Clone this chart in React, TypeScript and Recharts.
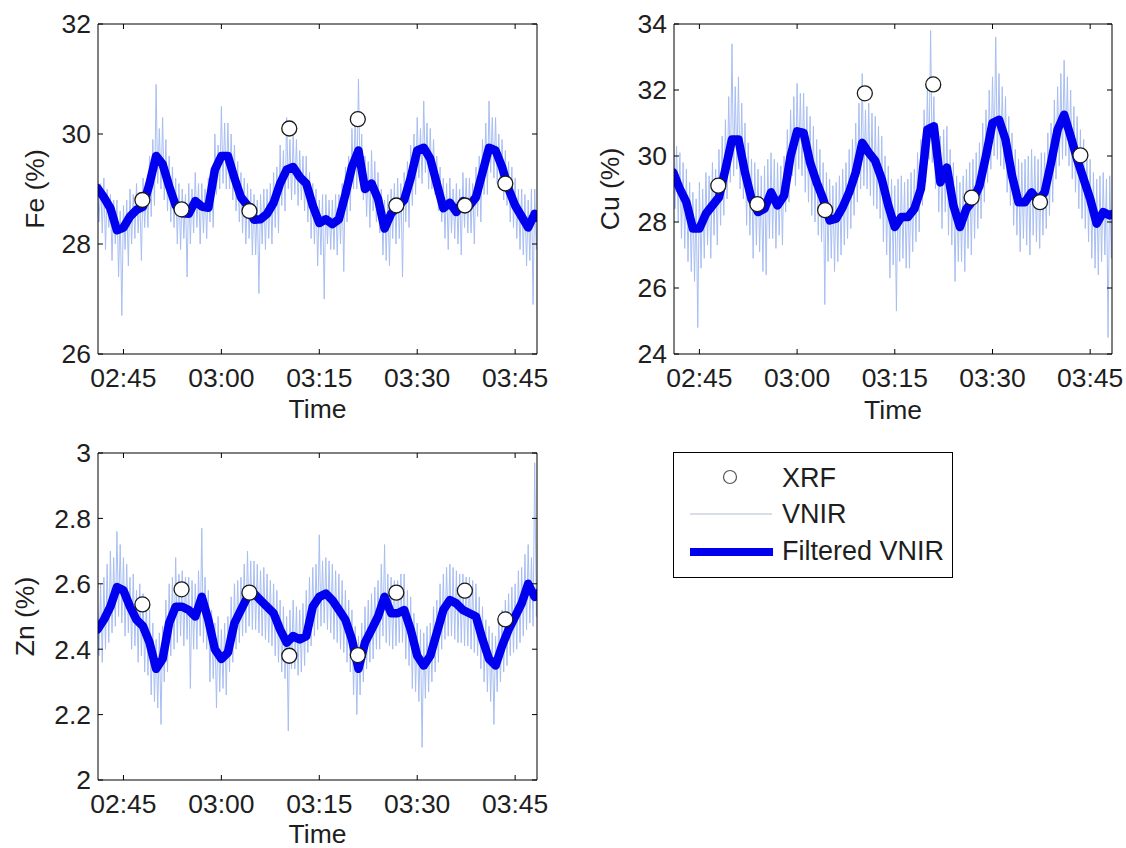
import React from 'react';
import { ComposedChart, Line, Scatter, XAxis, YAxis } from 'recharts';

const FONT = '"Liberation Sans", Arial, Helvetica, sans-serif';
const TEXT = '#1e1e1e';
const RAW_COLOR = '#a8bef2';
const FILT_COLOR = '#0000ee';
const FS = 26.5;

const X_DOMAIN: [number, number] = [161.1, 228.35];
const TIME_TICKS = [165, 180, 195, 210, 225];

// raw VNIR sampled every 0.25 min from 02:41; filtered every 1 min from 02:41
const RAW_START = 161;
const RAW_STEP = 0.25;
const FILT_START = 161;
const FILT_STEP = 1;

const xrfTimes = [167.9, 173.9, 184.3, 190.4, 200.9, 206.8, 217.3, 223.5];
const feXrf = [28.8, 28.63, 28.6, 30.1, 30.27, 28.7, 28.7, 29.1];
const cuXrf = [29.1, 28.54, 28.36, 31.9, 32.17, 28.74, 28.6, 30.02];
const znXrf = [2.537, 2.583, 2.573, 2.38, 2.382, 2.573, 2.579, 2.491];

const feRaw = [
  29.3, 28.4, 29.1, 28.2, 29.2, 27.9, 29.0, 28.3,
  28.9, 27.7, 28.8, 28.0, 28.8, 27.4, 28.6, 26.7,
  28.7, 27.9, 28.8, 27.6, 29.0, 28.0, 28.9, 28.1,
  29.1, 28.2, 28.9, 27.7, 29.2, 28.3, 29.0, 28.3,
  29.6, 28.5, 29.9, 28.7, 30.9, 29.1, 30.1, 29.0,
  30.3, 28.8, 29.9, 28.6, 29.6, 28.4, 29.4, 28.3,
  29.2, 28.0, 29.1, 27.9, 29.0, 28.1, 28.9, 27.4,
  29.1, 28.0, 29.0, 28.2, 29.3, 28.3, 29.1, 28.0,
  29.1, 28.2, 29.0, 28.1, 29.2, 28.4, 29.3, 28.3,
  30.0, 28.9, 29.8, 29.0, 30.5, 29.1, 30.2, 29.0,
  30.2, 29.0, 30.0, 28.8, 29.8, 28.6, 29.5, 28.4,
  29.3, 28.2, 29.2, 28.0, 29.1, 28.1, 29.0, 27.8,
  28.9, 27.8, 28.8, 27.1, 28.9, 28.0, 29.0, 27.9,
  29.0, 28.1, 29.1, 28.0, 29.3, 28.3, 29.4, 28.2,
  29.8, 28.7, 29.7, 28.6, 30.3, 29.0, 29.9, 28.8,
  30.0, 28.9, 29.9, 28.7, 29.7, 28.8, 29.6, 28.6,
  29.6, 28.4, 29.3, 28.1, 29.1, 28.0, 29.0, 27.6,
  28.8, 27.8, 28.9, 27.0, 28.9, 28.0, 28.8, 27.9,
  28.8, 27.9, 28.9, 27.8, 28.9, 28.0, 29.1, 27.5,
  29.4, 28.4, 29.6, 28.6, 30.1, 29.0, 30.4, 29.0,
  31.0, 29.2, 30.0, 28.8, 29.6, 28.5, 29.5, 28.3,
  29.7, 28.6, 29.5, 28.4, 29.3, 28.2, 29.0, 27.8,
  28.8, 27.7, 28.9, 27.6, 29.0, 28.1, 29.1, 28.0,
  29.2, 28.1, 29.1, 27.4, 29.3, 28.4, 29.5, 28.3,
  29.8, 28.7, 30.0, 28.9, 30.3, 29.2, 30.1, 29.1,
  30.6, 29.3, 30.2, 29.0, 30.1, 29.0, 29.9, 28.9,
  29.6, 28.6, 29.4, 28.4, 29.2, 28.1, 29.1, 27.9,
  29.2, 28.2, 29.0, 28.1, 29.1, 28.0, 29.0, 27.8,
  29.3, 28.3, 29.2, 28.2, 29.2, 28.2, 29.1, 28.0,
  29.4, 28.5, 29.6, 28.4, 29.9, 28.9, 30.2, 28.9,
  30.6, 29.3, 30.3, 29.2, 30.3, 29.1, 30.0, 29.0,
  29.9, 28.8, 29.7, 28.7, 29.5, 28.4, 29.4, 28.3,
  29.2, 28.1, 29.0, 27.9, 29.0, 27.8, 28.9, 27.6,
  28.8, 27.7, 29.0, 26.9, 29.0, 27.9, 28.9, 27.3,
];

const cuRaw = [
  30.6, 28.4, 30.3, 28.0, 30.1, 27.5, 29.8, 27.2,
  29.6, 26.8, 29.2, 26.5, 28.9, 26.2, 28.7, 24.8,
  29.2, 26.6, 29.0, 26.9, 29.5, 27.3, 29.4, 26.9,
  29.8, 27.6, 29.6, 27.3, 30.2, 27.9, 30.6, 28.2,
  31.1, 28.7, 31.8, 29.2, 33.4, 29.4, 32.1, 29.6,
  32.4, 29.0, 31.6, 28.7, 31.0, 27.9, 30.4, 27.6,
  29.9, 26.9, 29.8, 27.3, 29.6, 27.1, 29.4, 26.5,
  29.7, 26.4, 29.9, 27.5, 30.1, 27.5, 29.9, 27.2,
  29.8, 27.6, 29.7, 27.3, 30.0, 28.3, 30.8, 28.6,
  31.4, 29.4, 31.8, 29.1, 32.2, 29.6, 31.9, 29.4,
  31.9, 28.9, 31.5, 28.6, 31.2, 28.2, 30.9, 28.0,
  30.5, 27.6, 30.2, 27.4, 29.8, 25.5, 29.5, 26.8,
  29.3, 26.9, 29.1, 26.5, 29.2, 26.8, 29.4, 27.0,
  29.6, 27.3, 29.8, 27.5, 30.2, 27.8, 30.5, 28.2,
  31.0, 28.6, 31.6, 29.0, 32.5, 29.1, 31.4, 29.0,
  31.6, 28.8, 31.3, 28.5, 31.2, 28.4, 30.9, 28.1,
  30.6, 27.4, 30.0, 27.0, 29.7, 26.3, 29.3, 26.7,
  29.1, 25.3, 29.3, 26.8, 29.4, 26.9, 29.2, 26.6,
  29.3, 26.6, 29.5, 27.1, 29.6, 27.4, 30.1, 27.7,
  30.5, 28.5, 31.4, 29.2, 32.0, 29.9, 33.8, 29.8,
  31.8, 29.0, 31.0, 28.3, 30.6, 27.8, 30.8, 28.3,
  30.9, 27.6, 30.2, 27.3, 29.8, 26.2, 29.4, 26.8,
  29.2, 26.8, 29.4, 26.5, 29.6, 27.2, 29.8, 27.0,
  29.9, 27.5, 30.1, 27.8, 30.4, 28.1, 31.0, 28.6,
  31.4, 29.2, 32.0, 29.6, 32.4, 30.0, 33.6, 29.9,
  32.5, 29.7, 32.1, 29.6, 31.8, 28.9, 31.2, 28.5,
  30.7, 27.9, 30.2, 27.6, 29.9, 27.1, 29.8, 27.5,
  29.9, 27.3, 30.0, 27.0, 30.2, 27.6, 30.0, 27.4,
  29.9, 27.2, 30.1, 27.6, 30.1, 27.8, 30.7, 28.2,
  31.0, 28.6, 31.7, 29.3, 32.1, 29.7, 32.5, 29.9,
  32.9, 30.0, 32.4, 29.7, 32.0, 29.3, 31.5, 28.9,
  31.2, 28.4, 30.8, 28.1, 30.5, 27.8, 30.1, 27.4,
  29.9, 26.9, 29.5, 26.6, 29.3, 26.4, 29.4, 26.8,
  29.5, 27.0, 29.3, 24.5, 29.4, 26.9, 29.2, 27.1,
];

const znRaw = [
  2.55, 2.38, 2.60, 2.36, 2.62, 2.40, 2.66, 2.42,
  2.70, 2.45, 2.68, 2.47, 2.76, 2.50, 2.72, 2.48,
  2.68, 2.44, 2.66, 2.45, 2.62, 2.40, 2.63, 2.41,
  2.58, 2.36, 2.60, 2.38, 2.57, 2.33, 2.55, 2.32,
  2.52, 2.26, 2.48, 2.24, 2.43, 2.22, 2.45, 2.17,
  2.47, 2.30, 2.55, 2.33, 2.60, 2.38, 2.62, 2.40,
  2.68, 2.42, 2.63, 2.44, 2.64, 2.41, 2.62, 2.43,
  2.62, 2.28, 2.61, 2.40, 2.60, 2.40, 2.64, 2.44,
  2.77, 2.42, 2.62, 2.40, 2.58, 2.30, 2.52, 2.31,
  2.48, 2.22, 2.50, 2.27, 2.46, 2.28, 2.48, 2.26,
  2.50, 2.33, 2.56, 2.36, 2.60, 2.40, 2.61, 2.42,
  2.62, 2.44, 2.66, 2.45, 2.70, 2.47, 2.67, 2.46,
  2.67, 2.46, 2.66, 2.45, 2.64, 2.44, 2.65, 2.43,
  2.63, 2.42, 2.61, 2.41, 2.60, 2.38, 2.58, 2.36,
  2.55, 2.33, 2.53, 2.31, 2.50, 2.15, 2.52, 2.34,
  2.55, 2.34, 2.53, 2.32, 2.52, 2.33, 2.54, 2.35,
  2.58, 2.39, 2.62, 2.41, 2.65, 2.44, 2.66, 2.46,
  2.75, 2.47, 2.67, 2.48, 2.68, 2.46, 2.67, 2.45,
  2.66, 2.43, 2.64, 2.42, 2.63, 2.40, 2.61, 2.39,
  2.58, 2.36, 2.55, 2.33, 2.52, 2.26, 2.47, 2.20,
  2.44, 2.26, 2.48, 2.30, 2.53, 2.34, 2.55, 2.36,
  2.57, 2.37, 2.59, 2.40, 2.61, 2.40, 2.66, 2.44,
  2.72, 2.42, 2.63, 2.41, 2.62, 2.40, 2.61, 2.41,
  2.61, 2.42, 2.63, 2.42, 2.63, 2.37, 2.58, 2.35,
  2.56, 2.28, 2.51, 2.27, 2.48, 2.24, 2.46, 2.10,
  2.45, 2.25, 2.47, 2.27, 2.48, 2.30, 2.53, 2.33,
  2.55, 2.36, 2.60, 2.40, 2.63, 2.43, 2.65, 2.44,
  2.66, 2.44, 2.65, 2.43, 2.64, 2.42, 2.63, 2.42,
  2.63, 2.41, 2.62, 2.41, 2.62, 2.40, 2.61, 2.39,
  2.60, 2.38, 2.56, 2.34, 2.53, 2.30, 2.49, 2.27,
  2.47, 2.24, 2.45, 2.17, 2.44, 2.27, 2.50, 2.30,
  2.52, 2.33, 2.55, 2.35, 2.57, 2.38, 2.59, 2.39,
  2.60, 2.40, 2.64, 2.42, 2.65, 2.44, 2.69, 2.46,
  2.72, 2.48, 2.68, 2.47, 2.97, 2.50, 2.70, 2.48,
];

const feFilt = [
  29.02, 28.85, 28.65, 28.25, 28.3, 28.5, 28.62, 28.68, 29.1, 29.6,
  29.45, 29.05, 28.7, 28.56, 28.55, 28.78, 28.68, 28.66, 29.35, 29.6,
  29.6, 29.2, 28.85, 28.7, 28.44, 28.45, 28.55, 28.75, 29.1, 29.35,
  29.4, 29.22, 29.1, 28.7, 28.38, 28.45, 28.36, 28.45, 28.9, 29.4,
  29.7, 29.0, 29.1, 28.82, 28.28, 28.55, 28.68, 28.8, 29.2, 29.7,
  29.75, 29.55, 29.1, 28.65, 28.75, 28.58, 28.78, 28.7, 28.85, 29.3,
  29.75, 29.7, 29.4, 29.0, 28.7, 28.5, 28.3, 28.55, 28.42,
];

const cuFilt = [
  29.5, 29.0, 28.6, 27.8, 27.8, 28.25, 28.5, 28.75, 29.6, 30.5,
  30.5, 29.5, 28.7, 28.3, 28.4, 28.9, 28.5, 28.8, 30.0, 30.75,
  30.7, 29.8, 29.2, 28.7, 28.05, 28.1, 28.45, 28.9, 29.5, 30.4,
  30.1, 29.85, 29.3, 28.5, 27.85, 28.15, 28.15, 28.4, 29.0, 30.8,
  30.9, 29.2, 29.65, 28.5, 27.85, 28.4, 28.65, 29.1, 30.0, 31.0,
  31.1, 30.5, 29.4, 28.6, 28.6, 28.9, 28.65, 28.9, 29.8, 30.8,
  31.25, 30.6, 29.9, 29.3, 28.7, 27.95, 28.3, 28.2, 28.3,
];

const znFilt = [
  2.46, 2.49, 2.53, 2.59, 2.58, 2.53, 2.49, 2.47, 2.42, 2.34,
  2.37, 2.48, 2.53, 2.53, 2.52, 2.5, 2.56, 2.49, 2.4, 2.37,
  2.39, 2.48, 2.52, 2.56, 2.57, 2.55, 2.53, 2.51, 2.46, 2.42,
  2.44, 2.43, 2.44, 2.53, 2.56, 2.57, 2.55, 2.52, 2.49, 2.43,
  2.34, 2.42, 2.46, 2.5, 2.56, 2.51, 2.51, 2.52, 2.46, 2.38,
  2.35, 2.38, 2.45, 2.52, 2.55, 2.54, 2.52, 2.51, 2.5, 2.43,
  2.37, 2.35, 2.41, 2.46, 2.5, 2.54, 2.6, 2.56, 2.58,
];

const feTicks = [26, 28, 30, 32];
const cuTicks = [24, 26, 28, 30, 32, 34];
const znTicks = [2, 2.2, 2.4, 2.6, 2.8, 3];

const toRows = (vals: number[], start: number, step: number) =>
  vals.map((v, i) => ({ t: start + i * step, v }));
const xrfRows = (vals: number[]) => vals.map((v, i) => ({ t: xrfTimes[i], v }));

const fmtTime = (t: number) => {
  const h = Math.floor(t / 60);
  const m = Math.round(t - h * 60);
  return `${String(h).padStart(2, '0')}:${String(m).padStart(2, '0')}`;
};

const tickStyle = { fill: TEXT, fontSize: FS, fontFamily: FONT };

const XrfDot = (p: any) => (
  <circle cx={p.cx} cy={p.cy} r={7.5} fill="#ffffff" stroke="#1a1a1a" strokeWidth={1.3} />
);

type PanelProps = {
  left: number;
  top: number;
  width: number;
  height: number;
  margin: { top: number; right: number; bottom: number; left: number };
  xHeight: number;
  raw: number[];
  filt: number[];
  xrf: number[];
  yDomain: [number, number];
  yTicks: number[];
  yLabel: string;
  yLabelDist: number;
  timeDist: number;
};

const Panel = (p: PanelProps) => {
  const rawRows = toRows(p.raw, RAW_START, RAW_STEP);
  const filtRows = toRows(p.filt, FILT_START, FILT_STEP);
  const pts = xrfRows(p.xrf);
  const yLabelFn = (props: any) => {
    const vb = props.viewBox || {};
    const cx = vb.x + vb.width - p.yLabelDist;
    const cy = vb.y + vb.height / 2;
    return (
      <text
        x={cx}
        y={cy}
        transform={`rotate(-90, ${cx}, ${cy})`}
        textAnchor="middle"
        dominantBaseline="central"
        fill={TEXT}
        fontSize={FS}
        fontFamily={FONT}
      >
        {p.yLabel}
      </text>
    );
  };
  const xLabelFn = (props: any) => {
    const vb = props.viewBox || {};
    return (
      <text
        x={vb.x + vb.width / 2}
        y={vb.y + p.timeDist}
        textAnchor="middle"
        fill={TEXT}
        fontSize={FS}
        fontFamily={FONT}
      >
        Time
      </text>
    );
  };
  return (
    <div style={{ position: 'absolute', left: p.left, top: p.top }}>
      <ComposedChart width={p.width} height={p.height} margin={p.margin}>
        <XAxis
          dataKey="t"
          type="number"
          domain={X_DOMAIN}
          allowDataOverflow
          ticks={TIME_TICKS}
          interval={0}
          tickFormatter={fmtTime}
          tickSize={-5}
          tickMargin={19}
          height={p.xHeight}
          stroke="#000"
          tick={tickStyle}
          label={xLabelFn}
        />
        <XAxis
          xAxisId="top"
          orientation="top"
          dataKey="t"
          type="number"
          domain={X_DOMAIN}
          allowDataOverflow
          ticks={TIME_TICKS}
          interval={0}
          tickFormatter={() => ''}
          tickSize={-5}
          height={1}
          stroke="#000"
        />
        <YAxis
          dataKey="v"
          type="number"
          domain={p.yDomain}
          allowDataOverflow
          ticks={p.yTicks}
          interval={0}
          tickSize={-5}
          tickMargin={12}
          width={70}
          stroke="#000"
          tick={tickStyle}
          label={yLabelFn}
        />
        <YAxis
          yAxisId="r"
          orientation="right"
          dataKey="v"
          type="number"
          domain={p.yDomain}
          allowDataOverflow
          ticks={p.yTicks}
          interval={0}
          tickFormatter={() => ''}
          tickSize={-5}
          width={1}
          stroke="#000"
        />
        <Line
          data={rawRows}
          dataKey="v"
          type="linear"
          stroke={RAW_COLOR}
          strokeWidth={1}
          dot={false}
          activeDot={false}
          isAnimationActive={false}
        />
        <Line
          data={filtRows}
          dataKey="v"
          type="linear"
          stroke={FILT_COLOR}
          strokeWidth={8.5}
          strokeLinejoin="round"
          strokeLinecap="round"
          dot={false}
          activeDot={false}
          isAnimationActive={false}
        />
        <Scatter data={pts} dataKey="v" shape={XrfDot} isAnimationActive={false} />
      </ComposedChart>
    </div>
  );
};

const LegendBox = () => (
  <svg
    style={{ position: 'absolute', left: 673, top: 452 }}
    width={281}
    height={127}
  >
    <rect x={0.5} y={0.5} width={279} height={125} fill="#fff" stroke="#000" strokeWidth={1} />
    <circle cx={57} cy={25} r={6.5} fill="#fff" stroke="#555" strokeWidth={1.2} />
    <text x={109} y={35} fill={TEXT} fontSize={27} fontFamily={FONT}>XRF</text>
    <line x1={17} y1={62} x2={99} y2={62} stroke="#b4bcd8" strokeWidth={1.2} />
    <text x={109} y={71} fill={TEXT} fontSize={27} fontFamily={FONT}>VNIR</text>
    <line x1={17} y1={100} x2={100} y2={100} stroke={FILT_COLOR} strokeWidth={8} />
    <text x={109} y={108} fill={TEXT} fontSize={27} fontFamily={FONT}>Filtered VNIR</text>
  </svg>
);

export default function App() {
  return (
    <div
      style={{
        position: 'absolute',
        left: 0,
        top: 0,
        width: 1126,
        height: 848,
        background: '#ffffff',
        overflow: 'hidden',
      }}
    >
      <Panel
        left={0}
        top={0}
        width={560}
        height={440}
        margin={{ top: 23, right: 22, bottom: 16, left: 28 }}
        xHeight={70}
        raw={feRaw}
        filt={feFilt}
        xrf={feXrf}
        yDomain={[26, 32]}
        yTicks={feTicks}
        yLabel="Fe (%)"
        yLabelDist={63}
        timeDist={64}
      />
      <Panel
        left={576}
        top={0}
        width={550}
        height={440}
        margin={{ top: 23, right: 13, bottom: 16, left: 28 }}
        xHeight={70}
        raw={cuRaw}
        filt={cuFilt}
        xrf={cuXrf}
        yDomain={[24, 34]}
        yTicks={cuTicks}
        yLabel="Cu (%)"
        yLabelDist={64}
        timeDist={65}
      />
      <Panel
        left={0}
        top={429}
        width={560}
        height={419}
        margin={{ top: 23, right: 22, bottom: 2, left: 28 }}
        xHeight={66}
        raw={znRaw}
        filt={znFilt}
        xrf={znXrf}
        yDomain={[2, 3]}
        yTicks={znTicks}
        yLabel="Zn (%)"
        yLabelDist={73}
        timeDist={63}
      />
      <LegendBox />
    </div>
  );
}
